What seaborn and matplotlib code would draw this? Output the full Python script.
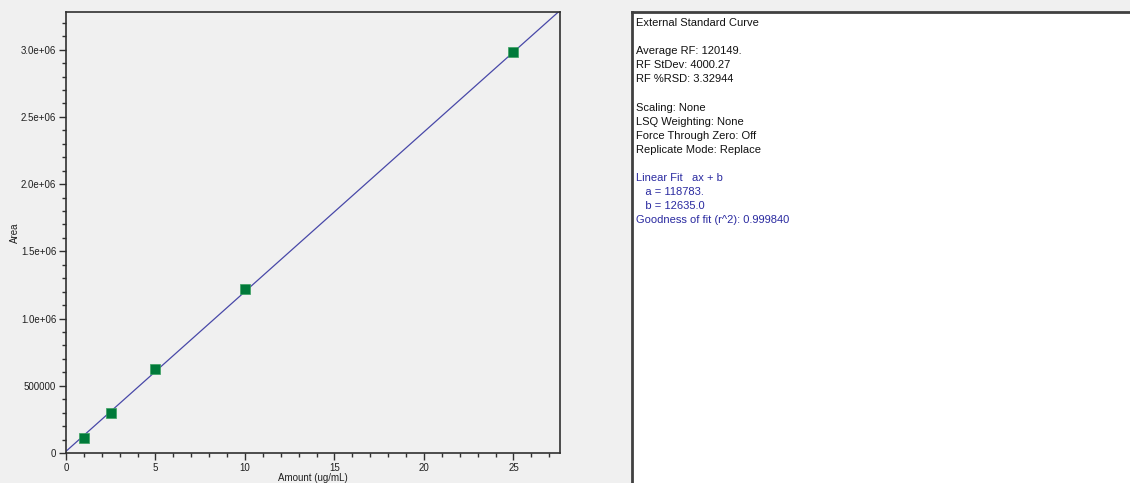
import numpy as np
import pandas as pd
import matplotlib
matplotlib.use("Agg")
import matplotlib.pyplot as plt
from matplotlib.ticker import MultipleLocator, FixedLocator, FixedFormatter
import seaborn as sns

# ---- data ----
amounts = [1, 2.5, 5, 10, 25]
areas = [110000, 300000, 622000, 1220000, 2980000]
fit_a = 118783.0
fit_b = 12635.0
x_ticks = [0, 5, 10, 15, 20, 25]
y_ticks = [0, 500000, 1000000, 1500000, 2000000, 2500000, 3000000]
y_tick_labels = ["0", "500000", "1.0e+06", "1.5e+06", "2.0e+06", "2.5e+06", "3.0e+06"]
x_max = 27.6
y_max = 3.28e6
info_black = ["External Standard Curve", "", "Average RF: 120149.", "RF StDev: 4000.27",
              "RF %RSD: 3.32944", "", "Scaling: None", "LSQ Weighting: None",
              "Force Through Zero: Off", "Replicate Mode: Replace", ""]
info_blue = ["Linear Fit   ax + b", "   a = 118783.", "   b = 12635.0",
             "Goodness of fit (r^2): 0.999840"]

sns.set_theme(style="white")
plt.rcParams['font.family'] = ['Liberation Sans', 'DejaVu Sans']

W, H = 1130, 483
fig = plt.figure(figsize=(W / 100, H / 100), dpi=100, facecolor="#f0f0f0")

ax = fig.add_axes([66 / W, 1 - 453 / H, (560 - 66) / W, (453 - 12) / H])
ax.set_facecolor("#f0f0f0")

line_df = pd.DataFrame({"x": [0.0, x_max]})
line_df["y"] = fit_a * line_df["x"] + fit_b
sns.lineplot(data=line_df, x="x", y="y", ax=ax, color="#4848a8", linewidth=0.9)

pts = pd.DataFrame({"Amount": amounts, "Area": areas})
sns.scatterplot(data=pts, x="Amount", y="Area", ax=ax, marker="s", s=46,
                color="#007a3a", edgecolor="#3aa060", linewidth=0.5, zorder=5)

ax.set_xlim(0, x_max)
ax.set_ylim(0, y_max)
ax.xaxis.set_major_locator(FixedLocator(x_ticks))
ax.xaxis.set_minor_locator(MultipleLocator(1))
ax.yaxis.set_major_locator(FixedLocator(y_ticks))
ax.yaxis.set_major_formatter(FixedFormatter(y_tick_labels))
ax.yaxis.set_minor_locator(MultipleLocator(100000))
ax.tick_params(which="major", direction="out", length=5, width=1, color="#303030",
               labelsize=7, labelcolor="#202020", bottom=True, left=True, pad=2)
ax.tick_params(which="minor", direction="out", length=3, width=1, color="#303030",
               bottom=True, left=True)
for s in ax.spines.values():
    s.set_color("#303030")
    s.set_linewidth(1.2)
ax.set_xlabel("")
ax.set_ylabel("Area", fontsize=7, color="#202020")
ax.yaxis.set_label_coords((20 - 66) / 494, 0.5)
fig.text(313 / W, 0.0, "Amount (ug/mL)", fontsize=7, color="#202020",
         ha="center", va="bottom")

# ---- info panel ----
ax2 = fig.add_axes([632 / W, 0, (W - 632) / W + 0.01, (H - 12) / H])
ax2.set_facecolor("white")
ax2.set_xticks([])
ax2.set_yticks([])
for k in ["right", "bottom"]:
    ax2.spines[k].set_visible(False)
for k in ["left", "top"]:
    ax2.spines[k].set_color("#404040")
    ax2.spines[k].set_linewidth(2)

y0 = 23
step = 14.1
lines = [(t, "#111111") for t in info_black] + [(t, "#2a2aa0") for t in info_blue]
for i, (t, c) in enumerate(lines):
    if t:
        fig.text(636 / W, 1 - (y0 + i * step) / H, t, fontsize=8, color=c,
                 ha="left", va="center")

fig.savefig("out.png", dpi=100, facecolor=fig.get_facecolor())
